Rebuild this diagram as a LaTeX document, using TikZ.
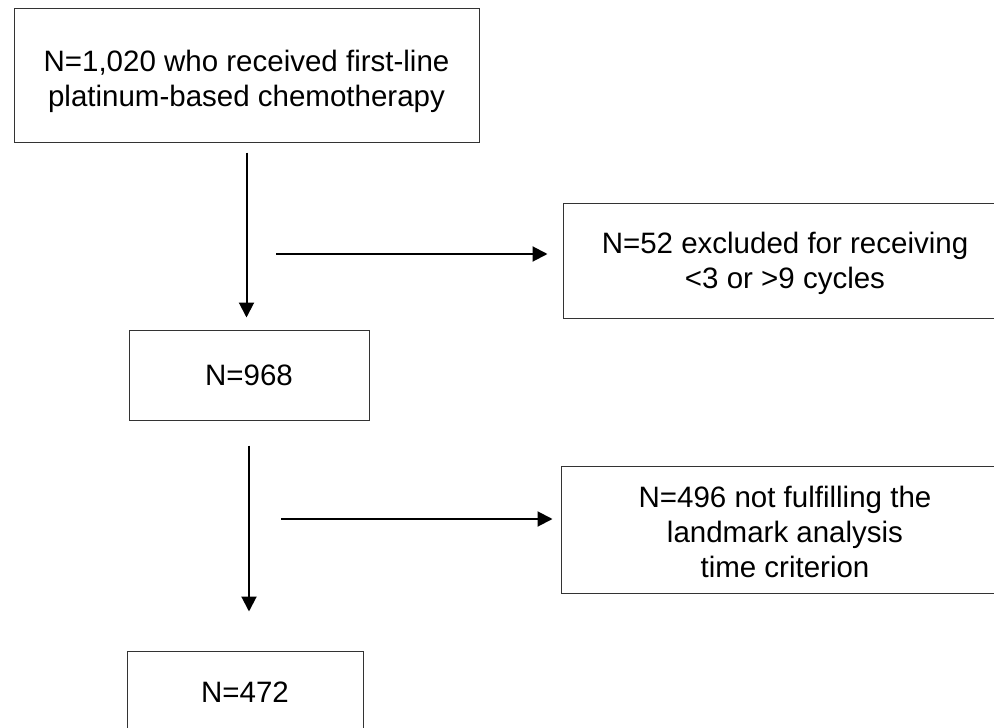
\documentclass[tikz,border=0pt]{standalone}
\usepackage{fontspec}
\setmainfont{Liberation Sans}
\usetikzlibrary{arrows.meta}
\begin{document}
\begin{tikzpicture}[x=1pt,y=-1pt,
  box/.style={draw=black!80, line width=1pt, inner sep=0pt},
  txt/.style={inner sep=0pt, align=center, font=\fontsize{29.5pt}{35pt}\selectfont},
  flow/.style={line width=2pt, -{Triangle[length=15pt,width=15pt]}}]
\useasboundingbox (0,0) rectangle (994,728);
\clip (0,0) rectangle (994,728);
\node[box, minimum width=465pt, minimum height=134pt] (top) at (246.5,75) {};
\node[txt] (toptxt) at ([yshift=-6pt]top.center)
  {N=1,020 who received first-line\\platinum-based chemotherapy};
\node[box, minimum width=240pt, minimum height=90pt] (n968) at (249,375) {};
\node[txt] (n968txt) at (n968.center) {N=968};
\node[box, minimum width=444pt, minimum height=115pt] (b52) at (785,260.5) {};
\node[txt] (b52txt) at ([yshift=-3pt]b52.center)
  {N=52 excluded for receiving\\<3 or >9 cycles};
\node[box, minimum width=448pt, minimum height=127pt] (b496) at (785,529.5) {};
\node[txt] (b496txt) at ([yshift=-2pt]b496.center)
  {N=496 not fulfilling the\\landmark analysis\\time criterion};
\node[box, minimum width=236pt, minimum height=82pt] (n472) at (245,692) {};
\node[txt] (n472txt) at (n472.center) {N=472};
\coordinate (h1s) at (276,254);
\coordinate (h2s) at (281,519);
\draw[flow, shorten <=10pt, shorten >=12pt] (top.south) -- (top.south |- n968.north);
\draw[flow, shorten <=25pt, shorten >=39pt] (n968.south) -- (n968.south |- n472.north);
\draw[flow, shorten >=15pt] (h1s) -- (h1s -| b52.west);
\draw[flow, shorten >=8pt] (h2s) -- (h2s -| b496.west);
\end{tikzpicture}
\end{document}
